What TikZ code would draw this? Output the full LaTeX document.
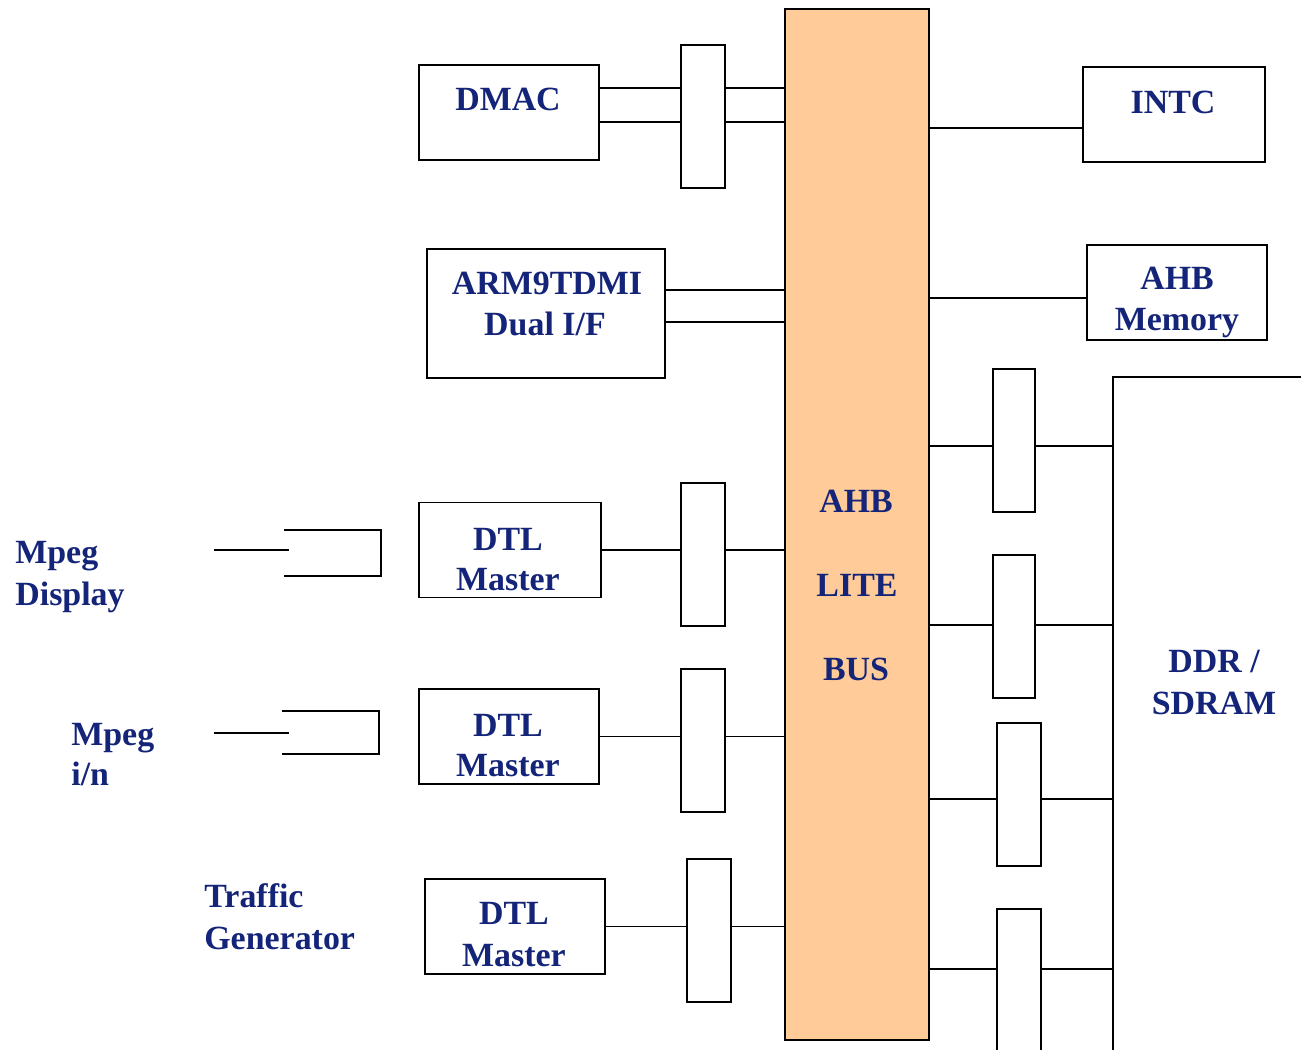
\documentclass[tikz,border=0pt]{standalone}
\usepackage{fontspec}
\setmainfont{Liberation Serif}
\usetikzlibrary{positioning}
\definecolor{busfill}{RGB}{255,204,153}
\definecolor{navy}{RGB}{20,36,120}

\begin{document}
\begin{tikzpicture}[x=0.02cm,y=-0.02cm,line cap=rect,line join=miter,
  box/.style={draw=black,line width=1.1pt,fill=white,inner sep=0pt},
  bridge/.style={box,minimum width=0.88cm,minimum height=2.86cm},
  lbl/.style={font=\fontsize{19.3}{23}\selectfont\bfseries,text=navy,inner sep=0pt,anchor=base},
  lblw/.style={lbl,anchor=base west},
  wire/.style={draw=black,line width=1.1pt}]
\useasboundingbox (0,0) rectangle (1301,1049);
% bus
\node[box,fill=busfill,minimum width=2.88cm,minimum height=20.62cm] (bus) at (857,524.5) {};
\node[lbl] (busA) at (856,512) {AHB};
\node[lbl] (busL) at (857,596) {LITE};
\node[lbl] (busB) at (856,680) {BUS};
% left side masters
\node[box,minimum width=3.6cm,minimum height=1.9cm] (dmac) at (509,112.5) {};
\node[lbl] (dmacT) at (508,110) {DMAC};
\node[bridge] (brA) at (703,116.5) {};
\node[box,minimum width=4.76cm,minimum height=2.58cm] (arm) at (546,313.5) {};
\node[lbl] (armT1) at (547,294) {ARM9TDMI};
\node[lbl] (armT2) at (545,335) {Dual I/F};
\node[box,minimum width=3.64cm,minimum height=1.9cm] (dtl1) at (510,550) {};
\node[lbl] (dtl1a) at (508,550) {DTL};
\node[lbl] (dtl1b) at (508,590) {Master};
\node[bridge] (br1) at (703,554.5) {};
\node[box,minimum width=3.6cm,minimum height=1.9cm] (dtl2) at (509,736.5) {};
\node[lbl] (dtl2a) at (508,736) {DTL};
\node[lbl] (dtl2b) at (508,776) {Master};
\node[bridge] (br2) at (703,740.5) {};
\node[box,minimum width=3.6cm,minimum height=1.9cm] (dtl3) at (515,926.5) {};
\node[lbl] (dtl3a) at (514,924) {DTL};
\node[lbl] (dtl3b) at (514,966) {Master};
\node[bridge] (br3) at (709,930.5) {};
% sources
\node[lblw] (dispA) at (15,563) {Mpeg};
\node[lblw] (dispB) at (15,605) {Display};
\node[lblw] (inA) at (71,745) {Mpeg};
\node[lblw] (inB) at (71,785) {i/n};
\node[lblw] (tgA) at (204,907) {Traffic};
\node[lblw] (tgB) at (204,949) {Generator};
\coordinate (dispIn) at (215,550);
\coordinate (dispEnd) at (288,550);
\coordinate (mpgIn) at (215,733);
\coordinate (mpgEnd) at (288,733);
\draw[wire] (dispIn) -- (dispEnd);
\draw[wire] (285,530) -- (381,530) -- (381,576) -- (285,576);
\draw[wire] (mpgIn) -- (mpgEnd);
\draw[wire] (283,711) -- (379,711) -- (379,754) -- (283,754);
% right side slaves
\node[box,minimum width=3.64cm,minimum height=1.9cm] (intc) at (1174,114.5) {};
\node[lbl] (intcT) at (1173,113) {INTC};
\node[box,minimum width=3.6cm,minimum height=1.9cm] (mem) at (1177,292.5) {};
\node[lbl] (memA) at (1177,289) {AHB};
\node[lbl] (memB) at (1177,330) {Memory};
\node[box,minimum width=6.12cm,minimum height=14.44cm] (ddr) at (1266,738) {};
\node[lbl] (ddrA) at (1214,672) {DDR /};
\node[lbl] (ddrB) at (1214,714) {SDRAM};
\node[box,minimum width=0.84cm,minimum height=2.86cm] (rb1) at (1014,440.5) {};
\node[box,minimum width=0.84cm,minimum height=2.86cm] (rb2) at (1014,626.5) {};
\node[bridge] (rb3) at (1019,794.5) {};
\node[bridge] (rb4) at (1019,980.5) {};
% connectors
\foreach \yy in {88,122}{
  \draw[wire] (dmac.east |- 0,\yy) -- (brA.west |- 0,\yy);
  \draw[wire] (brA.east |- 0,\yy) -- (bus.west |- 0,\yy);
}
\foreach \yy in {290,322}
  \draw[wire] (arm.east |- 0,\yy) -- (bus.west |- 0,\yy);
\foreach \m/\b in {dtl1/br1,dtl2/br2,dtl3/br3}{
  \draw[wire] (\m.east) -- (\b.west |- \m.east);
  \draw[wire] (\b.east |- \m.east) -- (bus.west |- \m.east);
}
\draw[wire] (bus.east |- 0,128) -- (intc.west |- 0,128);
\draw[wire] (bus.east |- 0,298) -- (mem.west |- 0,298);
\foreach \r/\yy in {rb1/446,rb2/625,rb3/799,rb4/969}{
  \draw[wire] (bus.east |- 0,\yy) -- (\r.west |- 0,\yy);
  \draw[wire] (\r.east |- 0,\yy) -- (ddr.west |- 0,\yy);
}
\end{tikzpicture}
\end{document}
